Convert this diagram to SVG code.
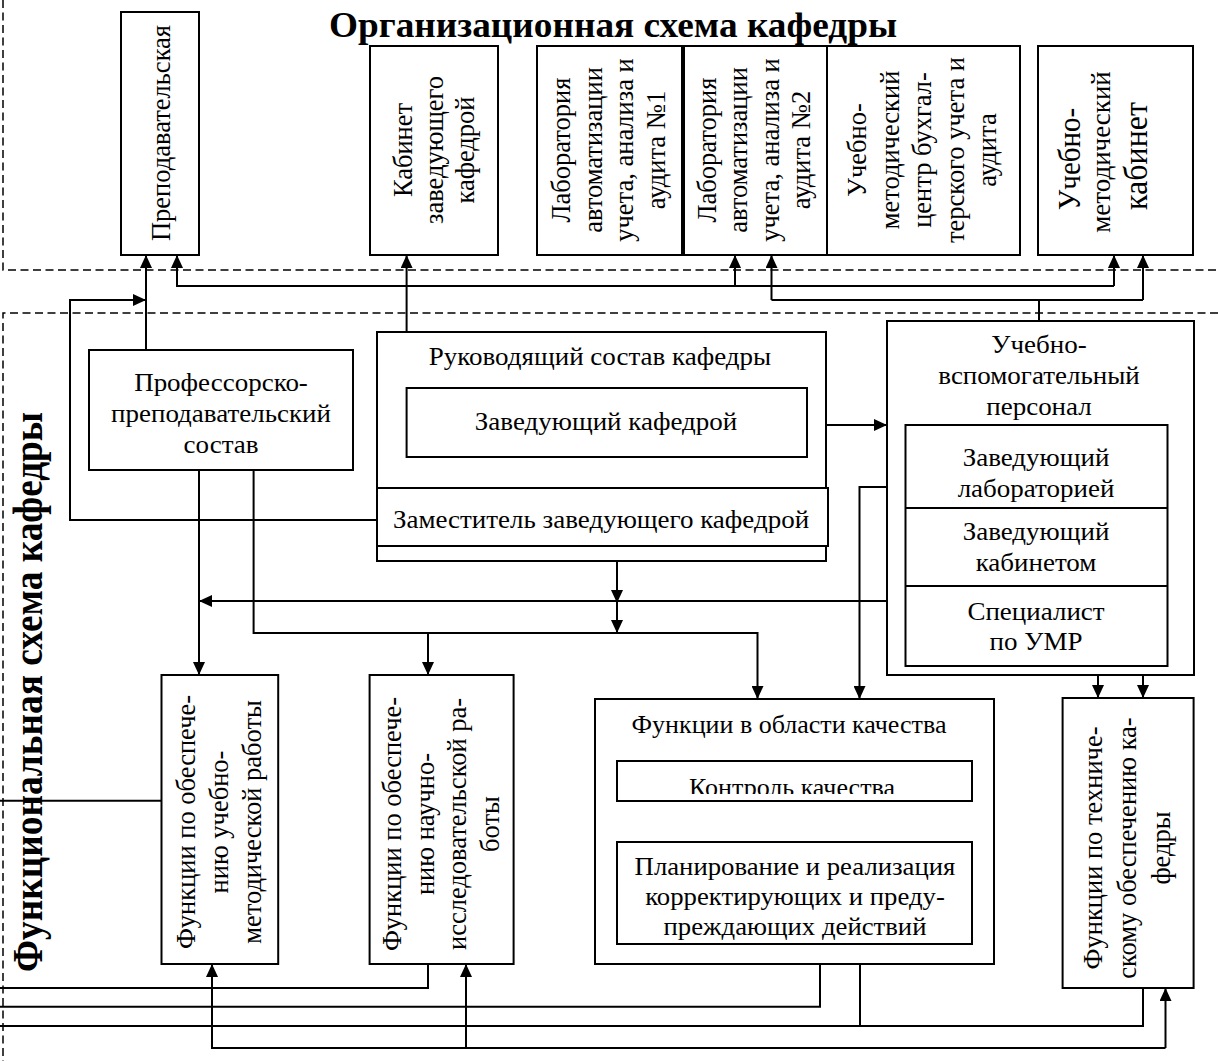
<svg xmlns="http://www.w3.org/2000/svg" width="1218" height="1061" viewBox="0 0 1218 1061">
<style>
.bg{fill:#fff}
.box{fill:#fff;stroke:#000;stroke-width:2}
.c{fill:none;stroke:#000;stroke-width:2}
.ar{fill:none;stroke:#000;stroke-width:2;marker-end:url(#ah)}
.d{fill:none;stroke:#000;stroke-width:1.5;stroke-dasharray:8 4.5}
.t{font-family:"Liberation Serif","Times New Roman",serif;font-size:25px;fill:#000;text-anchor:middle}
.v{font-family:"Liberation Serif","Times New Roman",serif;font-size:26.5px;fill:#000;text-anchor:middle}
.b{font-family:"Liberation Serif","Times New Roman",serif;font-weight:bold;font-size:36px;fill:#000}
</style>
<defs>
<marker id="ah" viewBox="0 0 13 12" refX="13" refY="6" markerWidth="13" markerHeight="12" markerUnits="userSpaceOnUse" orient="auto"><path d="M0,0 L13,6 L0,12 z" fill="#000"/></marker>
<clipPath id="clipK"><rect x="617" y="761" width="355" height="33"/></clipPath>
</defs>
<rect class="bg" x="0" y="0" width="1218" height="1061"/>

<g id="frames">
<path class="d" d="M3,0 V270 H1218"/>
<path class="d" d="M1218,313 H3 V1061"/>
</g>

<g id="titles">
<text class="b" x="329" y="37" textLength="568" lengthAdjust="spacingAndGlyphs">Организационная схема кафедры</text>
<text class="b" transform="translate(42,972) scale(1.15,1) rotate(-90)" x="0" y="0" textLength="560" lengthAdjust="spacingAndGlyphs">Функциональная схема кафедры</text>
</g>

<g id="connectors">
<path class="ar" d="M146,350 V255"/>
<path class="ar" d="M377,520 H70 V300 H146"/>
<path class="ar" d="M1114,286 H177 V255"/>
<path class="ar" d="M735,286 V255"/>
<path class="ar" d="M1114,286 V255"/>
<path class="c" d="M1039,321 V300"/>
<path class="c" d="M771.5,300 H1143"/>
<path class="ar" d="M771.5,300 V255"/>
<path class="ar" d="M1143,300 V255"/>
<path class="ar" d="M406.6,388 V255"/>
<path class="ar" d="M826,425 H887"/>
<path class="ar" d="M887,487 H859.5 V699"/>
<path class="ar" d="M887,601 H199"/>
<path class="ar" d="M199,470 V675"/>
<path class="ar" d="M253.6,470 V633 H757.5 V699"/>
<path class="ar" d="M428,633 V675"/>
<path class="ar" d="M617,561 V603"/>
<path class="ar" d="M617,603 V633"/>
<path class="ar" d="M1098,666 V698"/>
<path class="ar" d="M1143,666 V698"/>
<path class="c" d="M161.5,800.7 H0"/>
<path class="c" d="M428,964 V988 H0"/>
<path class="c" d="M820,964 V1006.7 H0"/>
<path class="c" d="M860,964 V1026 H0"/>
<path class="c" d="M1143,988 V1026 H860"/>
<path class="ar" d="M1165.5,1048 H212 V964"/>
<path class="ar" d="M466,1048 V964"/>
<path class="ar" d="M1165.5,1048 V988"/>
</g>

<g id="n-prepod">
<rect class="box" x="121" y="12" width="78" height="243"/>
<text class="v" transform="translate(170,133) scale(1.03,1) rotate(-90)">Преподавательская</text>
</g>

<g id="n-kabinet-zav">
<rect class="box" x="370" y="46" width="128" height="209"/>
<text class="v" transform="translate(412,150) scale(1.03,1) rotate(-90)">Кабинет</text>
<text class="v" transform="translate(443,150) scale(1.03,1) rotate(-90)">заведующего</text>
<text class="v" transform="translate(474,150) scale(1.03,1) rotate(-90)">кафедрой</text>
</g>

<g id="n-lab1">
<rect class="box" x="537" y="46" width="145" height="209"/>
<text class="v" transform="translate(570,150) scale(1.03,1) rotate(-90)">Лаборатория</text>
<text class="v" transform="translate(601.5,150) scale(1.03,1) rotate(-90)">автоматизации</text>
<text class="v" transform="translate(633,150) scale(1.03,1) rotate(-90)">учета, анализа и</text>
<text class="v" transform="translate(664.5,150) scale(1.03,1) rotate(-90)">аудита №1</text>
</g>

<g id="n-lab2">
<rect class="box" x="684" y="46" width="143" height="209"/>
<text class="v" transform="translate(715.5,150) scale(1.03,1) rotate(-90)">Лаборатория</text>
<text class="v" transform="translate(747,150) scale(1.03,1) rotate(-90)">автоматизации</text>
<text class="v" transform="translate(778.5,150) scale(1.03,1) rotate(-90)">учета, анализа и</text>
<text class="v" transform="translate(810,150) scale(1.03,1) rotate(-90)">аудита №2</text>
</g>

<g id="n-umc">
<rect class="box" x="827" y="46" width="193" height="209"/>
<text class="v" transform="translate(866,150) scale(1.03,1) rotate(-90)">Учебно-</text>
<text class="v" transform="translate(898.5,150) scale(1.03,1) rotate(-90)">методический</text>
<text class="v" transform="translate(931,150) scale(1.03,1) rotate(-90)">центр бухгал-</text>
<text class="v" transform="translate(963.5,150) scale(1.03,1) rotate(-90)">терского учета и</text>
<text class="v" transform="translate(996,150) scale(1.03,1) rotate(-90)">аудита</text>
</g>

<g id="n-umk">
<rect class="box" x="1038" y="46" width="155" height="209"/>
<text class="v" style="font-size:29px" transform="translate(1080,159) scale(1.12,1) rotate(-90)">Учебно-</text>
<text class="v" style="font-size:27px" transform="translate(1110,152) scale(0.98,1) rotate(-90)">методический</text>
<text class="v" style="font-size:32px" transform="translate(1147,156) scale(1.05,1) rotate(-90)">кабинет</text>
</g>

<g id="n-pps">
<rect class="box" x="89" y="350" width="264" height="120"/>
<text class="t" transform="translate(221,391) scale(1.08,1)"><tspan x="0">Профессорско-</tspan><tspan x="0" dy="31">преподавательский</tspan><tspan x="0" dy="31">состав</tspan></text>
</g>

<g id="n-ruk">
<rect class="box" x="377" y="332" width="449" height="229"/>
<text class="t" transform="translate(600,365) scale(1.08,1)">Руководящий состав кафедры</text>
</g>

<g id="n-zav">
<rect class="box" x="406.6" y="388" width="400.4" height="69"/>
<text class="t" transform="translate(606,430) scale(1.08,1)">Заведующий кафедрой</text>
</g>

<g id="n-zam">
<rect class="box" x="377" y="488" width="451" height="58"/>
<text class="t" transform="translate(601,528) scale(1.08,1)">Заместитель заведующего кафедрой</text>
</g>

<g id="n-uvp">
<rect class="box" x="887" y="321" width="307" height="354"/>
<text class="t" transform="translate(1039,353) scale(1.08,1)"><tspan x="0">Учебно-</tspan><tspan x="0" dy="31">вспомогательный</tspan><tspan x="0" dy="31">персонал</tspan></text>
<rect class="box" x="905.5" y="425" width="262" height="241"/>
<path class="c" d="M905.5,508 H1167.5 M905.5,586 H1167.5"/>
<text class="t" transform="translate(1036,466) scale(1.08,1)"><tspan x="0">Заведующий</tspan><tspan x="0" dy="31">лабораторией</tspan></text>
<text class="t" transform="translate(1036,540) scale(1.08,1)"><tspan x="0">Заведующий</tspan><tspan x="0" dy="31">кабинетом</tspan></text>
<text class="t" transform="translate(1036,620) scale(1.08,1)"><tspan x="0">Специалист</tspan><tspan x="0" dy="30">по УМР</tspan></text>
</g>

<g id="n-f-umr">
<rect class="box" x="161.5" y="675" width="116.7" height="289"/>
<text class="v" transform="translate(195,822) scale(1.03,1) rotate(-90)">Функции по обеспече-</text>
<text class="v" transform="translate(228,822) scale(1.03,1) rotate(-90)">нию учебно-</text>
<text class="v" transform="translate(261,822) scale(1.03,1) rotate(-90)">методической работы</text>
</g>

<g id="n-f-nir">
<rect class="box" x="369.6" y="675" width="144" height="289"/>
<text class="v" transform="translate(401,824) scale(1.03,1) rotate(-90)">Функции по обеспече-</text>
<text class="v" transform="translate(433.5,824) scale(1.03,1) rotate(-90)">нию научно-</text>
<text class="v" transform="translate(466,824) scale(1.03,1) rotate(-90)">исследовательской ра-</text>
<text class="v" transform="translate(498.5,824) scale(1.03,1) rotate(-90)">боты</text>
</g>

<g id="n-quality">
<rect class="box" x="595" y="699" width="399" height="265"/>
<text class="t" transform="translate(789,733) scale(1.04,1)">Функции в области качества</text>
</g>

<g id="n-control">
<rect class="box" x="617" y="761" width="355" height="40"/>
<g clip-path="url(#clipK)"><text class="t" transform="translate(792,796) scale(1.04,1)">Контроль качества</text></g>
</g>

<g id="n-plan">
<rect class="box" x="617" y="842" width="355" height="102"/>
<text class="t" transform="translate(795,875) scale(1.07,1)"><tspan x="0">Планирование и реализация</tspan><tspan x="0" dy="30">корректирующих и преду-</tspan><tspan x="0" dy="30">преждающих действий</tspan></text>
</g>

<g id="n-f-tech">
<rect class="box" x="1062.6" y="698" width="131" height="290"/>
<text class="v" transform="translate(1102,848) scale(1.03,1) rotate(-90)">Функции по техниче-</text>
<text class="v" transform="translate(1136,848) scale(1.03,1) rotate(-90)">скому обеспечению ка-</text>
<text class="v" transform="translate(1170,848) scale(1.03,1) rotate(-90)">федры</text>
</g>
</svg>
